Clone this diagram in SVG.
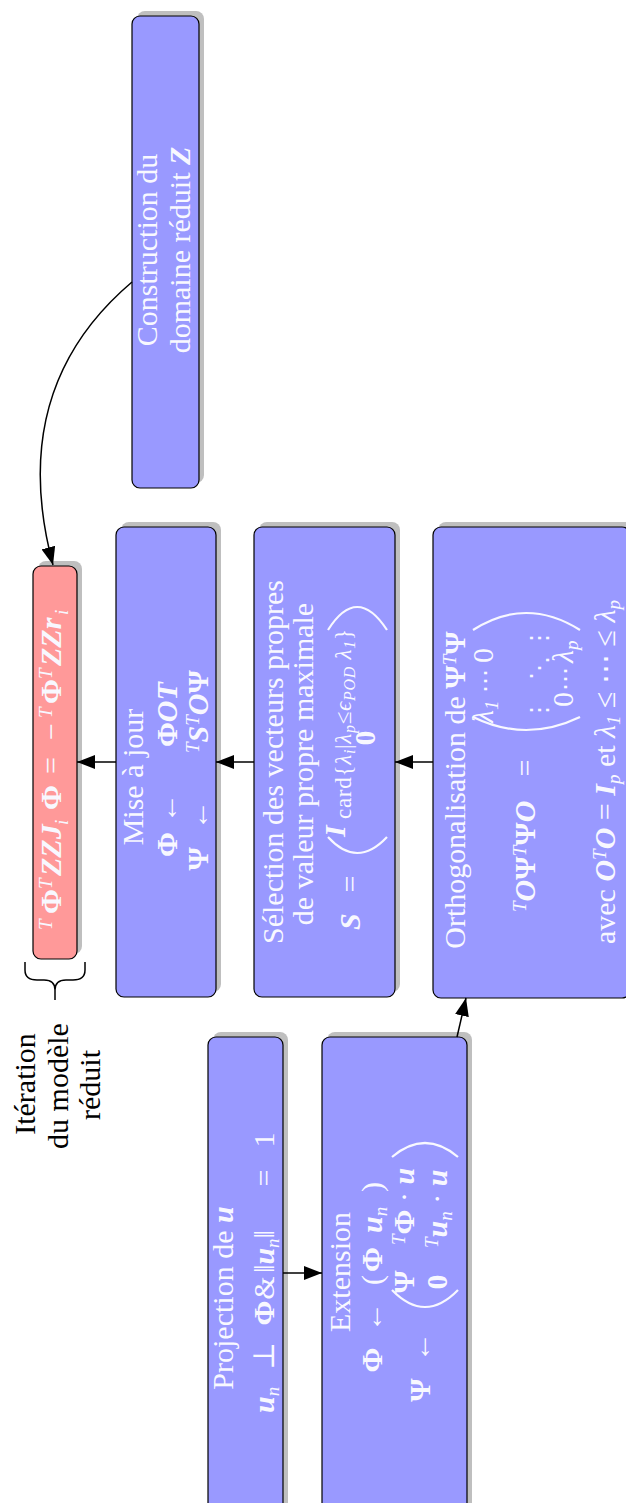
<svg xmlns="http://www.w3.org/2000/svg" width="626" height="1503" viewBox="0 0 626 1503">
<style>
.box{fill:#9999ff;stroke:#000;stroke-width:1.2}
.pk{fill:#ff9999;stroke:#000;stroke-width:1.2}
.sh{fill:#bfbfbf}
text{font-family:"Liberation Serif","DejaVu Serif",serif;font-size:30px;fill:#f8f8ff}
.lbl{fill:#000}
.b{font-weight:bold}
.bi{font-weight:bold;font-style:italic}
.i{font-style:italic}
.s{font-size:19px;font-style:italic}
.ss{font-size:16px;font-style:italic}
.sm{font-size:23px}
.dv{font-family:"DejaVu Sans",sans-serif;font-size:24px}
.par{fill:none;stroke:#f8f8ff;stroke-width:2.2}
.conn{fill:none;stroke:#000;stroke-width:1.5}
.m{text-anchor:middle}
.e{text-anchor:end}
</style>
<defs>
<marker id="ah" viewBox="0 0 18 14" refX="18" refY="7" markerWidth="18" markerHeight="14" markerUnits="userSpaceOnUse" orient="auto">
<path d="M0,0 L18,7 L0,14 z" fill="#000"/>
</marker>
</defs>

<g id="construction">
<rect class="sh" x="137" y="11" width="67" height="472" rx="8"/>
<rect class="box" x="132" y="16" width="67" height="472" rx="8"/>
<g transform="rotate(-90)">
<text class="m" x="-250" y="157">Construction du</text>
<text class="m" x="-250" y="190">domaine réduit <tspan class="bi">Z</tspan></text>
</g>
</g>

<g id="iteration">
<rect class="sh" x="38" y="561" width="44" height="393" rx="8"/>
<rect class="pk" x="33" y="566" width="44" height="393" rx="8"/>
<g transform="rotate(-90)">
<text y="61"><tspan class="s" x="-930" y="52">T</tspan><tspan class="b" x="-914" y="61">Φ</tspan><tspan class="s" x="-889" y="52">T</tspan><tspan class="bi" x="-876" y="61">ZZJ</tspan><tspan class="s" x="-825" y="68">i</tspan><tspan class="b" x="-810" y="61">Φ</tspan><tspan x="-774" y="61">=</tspan><tspan x="-740" y="61">−</tspan><tspan class="s" x="-718" y="52">T</tspan><tspan class="b" x="-704" y="61">Φ</tspan><tspan class="s" x="-679" y="52">T</tspan><tspan class="bi" x="-666" y="61">ZZr</tspan><tspan class="s" x="-615" y="68">i</tspan></text>
</g>
</g>

<g id="brace">
<path class="conn" d="M25,962 V970 Q25,980 37,980 H44 Q55,980 55,990 V1000 M85,962 V970 Q85,980 73,980 H66 Q55,980 55,990"/>
<g transform="rotate(-90)">
<text class="lbl m" x="-1084" y="35">Itération</text>
<text class="lbl m" x="-1086" y="68">du modèle</text>
<text class="lbl m" x="-1085" y="100">réduit</text>
</g>
</g>

<g id="miseajour">
<rect class="sh" x="121" y="522" width="100" height="470" rx="8"/>
<rect class="box" x="116" y="527" width="100" height="470" rx="8"/>
<g transform="rotate(-90)">
<text class="m" x="-777" y="143">Mise à jour</text>
<text class="b e" x="-832" y="177">Φ</text>
<text class="m" x="-808" y="177">←</text>
<text x="-747" y="177"><tspan class="b">Φ</tspan><tspan class="bi">OT</tspan></text>
<text class="b e" x="-847" y="208">Ψ</text>
<text class="m" x="-815" y="208">←</text>
<text x="-753" y="208"><tspan class="s" y="199">T</tspan><tspan class="bi" y="208">S</tspan><tspan class="s" y="199">T</tspan><tspan class="bi" y="208">O</tspan><tspan class="b">Ψ</tspan></text>
</g>
</g>

<g id="selection">
<rect class="sh" x="259" y="522" width="141" height="470" rx="8"/>
<rect class="box" x="254" y="527" width="141" height="470" rx="8"/>
<path class="par" d="M328,837 Q357,869 387,837 M328,630 Q357,584 387,630"/>
<g transform="rotate(-90)">
<text class="m" x="-762" y="283">Sélection des vecteurs propres</text>
<text class="m" x="-764" y="313">de valeur propre maximale</text>
<text class="bi" x="-930" y="360">S</text>
<text class="m" x="-884" y="360">=</text>
<text class="bi" x="-837" y="345">I</text>
<text class="sm" x="-819" y="351" textLength="190" lengthAdjust="spacing">card{<tspan class="i">λ</tspan><tspan class="ss" dy="4">i</tspan><tspan dy="-4">|</tspan><tspan class="i">λ</tspan><tspan class="ss" dy="4">p</tspan><tspan dy="-4">≤</tspan><tspan class="i">ϵ</tspan><tspan class="ss" dy="4">POD</tspan><tspan class="i" dy="-4"> λ</tspan><tspan class="ss" dy="4">1</tspan><tspan dy="-4">}</tspan></text>
<text class="b m" x="-738" y="375">0</text>
</g>
</g>

<g id="ortho">
<rect class="sh" x="438" y="522" width="197" height="471" rx="8"/>
<rect class="box" x="433" y="527" width="197" height="471" rx="8"/>
<path class="par" d="M473,717 Q526,743 580,717 M473,630 Q526,596 580,630"/>
<g transform="rotate(-90)">
<text class="m" x="-790" y="465">Orthogonalisation de <tspan class="b">Ψ</tspan><tspan class="s" dy="-9">T</tspan><tspan class="b" dy="9">Ψ</tspan></text>
<text x="-912" y="535"><tspan class="s" dy="-9">T</tspan><tspan class="bi" dy="9">O</tspan><tspan class="b">Ψ</tspan><tspan class="s" dy="-9">T</tspan><tspan class="b" dy="9">Ψ</tspan><tspan class="bi">O</tspan></text>
<text class="m" x="-768" y="535">=</text>
<text class="i" x="-723" y="493">λ<tspan class="s" font-style="normal" dy="5">1</tspan></text>
<text class="dv m" x="-681" y="493">⋯</text>
<text x="-663" y="493">0</text>
<text class="dv m" x="-710" y="547">⋮</text>
<text class="dv m" x="-668" y="547">⋱</text>
<text class="dv m" x="-638" y="547">⋮</text>
<text x="-707" y="573">0</text>
<text class="dv m" x="-679" y="573">⋯</text>
<text class="i" x="-663" y="573">λ<tspan class="s" dy="5">p</tspan></text>
<text class="m" x="-772" y="615">avec <tspan class="bi">O</tspan><tspan class="s" dy="-9">T</tspan><tspan class="bi" dy="9">O</tspan> = <tspan class="bi">I</tspan><tspan class="s" dy="5">p</tspan><tspan dy="-5"> et </tspan><tspan class="i">λ</tspan><tspan class="s" font-style="normal" dy="5">1</tspan><tspan dy="-5"> ≤ ⋯ ≤ </tspan><tspan class="i">λ</tspan><tspan class="s" dy="5">p</tspan></text>
</g>
</g>

<g id="projection">
<rect class="sh" x="213" y="1032" width="75" height="490" rx="8"/>
<rect class="box" x="208" y="1037" width="75" height="490" rx="8"/>
<g transform="rotate(-90)">
<text class="m" x="-1298" y="233">Projection de <tspan class="bi">u</tspan></text>
<text x="-1413" y="274"><tspan class="bi">u</tspan><tspan class="s" dy="5">n</tspan></text>
<text class="m" x="-1356" y="274">⊥</text>
<text class="b m" x="-1313" y="274">Φ</text>
<text class="m" x="-1288" y="274">&amp;</text>
<text x="-1273" y="274">‖<tspan class="bi">u</tspan><tspan class="s" dy="5">n</tspan><tspan dy="-5">‖</tspan></text>
<text class="m" x="-1178" y="274">=</text>
<text class="m" x="-1140" y="274">1</text>
</g>
</g>

<g id="extension">
<rect class="sh" x="327" y="1032" width="145" height="490" rx="8"/>
<rect class="box" x="322" y="1037" width="145" height="490" rx="8"/>
<path class="par" d="M392,1290 Q425,1324 458,1290 M392,1157 Q425,1129 458,1157"/>
<g transform="rotate(-90)">
<text class="m" x="-1272" y="350">Extension</text>
<text class="b m" x="-1360" y="382">Φ</text>
<text class="m" x="-1317" y="382">←</text>
<text x="-1285" y="382">(</text>
<text class="b" x="-1272" y="382">Φ</text>
<text x="-1233" y="382"><tspan class="bi">u</tspan><tspan class="s" dy="5">n</tspan></text>
<text x="-1192" y="382">)</text>
<text class="b m" x="-1390" y="430">Ψ</text>
<text class="m" x="-1347" y="430">←</text>
<text class="b m" x="-1282" y="414">Ψ</text>
<text x="-1245" y="414"><tspan class="s" dy="-9">T</tspan><tspan class="b" dy="9">Φ</tspan> · <tspan class="bi">u</tspan></text>
<text class="b m" x="-1282" y="447">0</text>
<text x="-1248" y="447"><tspan class="s" dy="-9">T</tspan><tspan class="bi" dy="9">u</tspan><tspan class="s" dy="5">n</tspan><tspan dy="-5"> · </tspan><tspan class="bi">u</tspan></text>
</g>
</g>

<g id="connectors">
<path class="conn" d="M132,282 C40,360 25,460 53,565" marker-end="url(#ah)"/>
<path class="conn" d="M116,762 H77" marker-end="url(#ah)"/>
<path class="conn" d="M254,762 H216" marker-end="url(#ah)"/>
<path class="conn" d="M433,762 H395" marker-end="url(#ah)"/>
<path class="conn" d="M283,1273 H322" marker-end="url(#ah)"/>
<path class="conn" d="M457,1037 L466,998" marker-end="url(#ah)"/>
</g>
</svg>
